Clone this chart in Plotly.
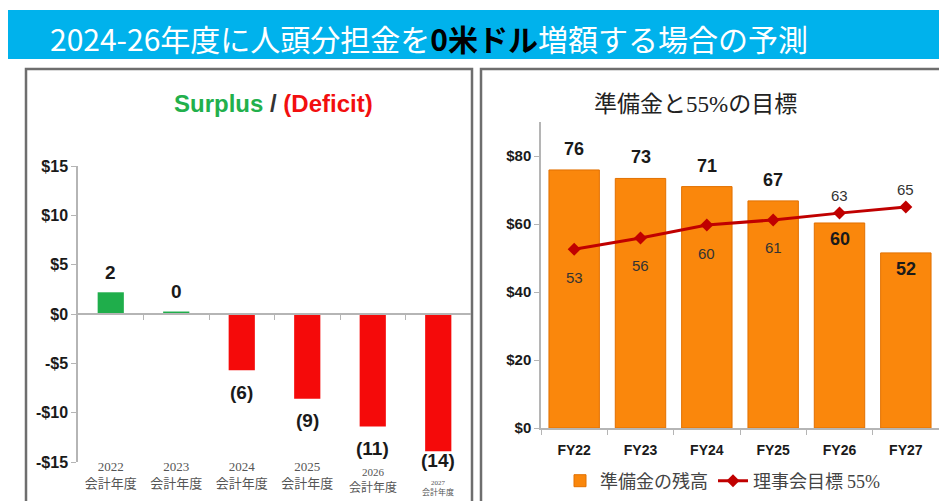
import plotly.graph_objects as go

# ---------------- data ----------------
# Left chart: Surplus / (Deficit)
fiscal_years = ["2022", "2023", "2024", "2025", "2026", "2027"]
surplus_values = [2.2, 0.25, -5.7, -8.6, -11.4, -13.9]
surplus_labels = ["2", "0", "(6)", "(9)", "(11)", "(14)"]
left_yticks = [15, 10, 5, 0, -5, -10, -15]
left_yticklabels = ["$15", "$10", "$5", "$0", "-$5", "-$10", "-$15"]

# Right chart: reserves vs 55% target
fy_labels = ["FY22", "FY23", "FY24", "FY25", "FY26", "FY27"]
reserve_values = [75.9, 73.4, 71.0, 66.8, 60.3, 51.5]
reserve_labels = ["76", "73", "71", "67", "60", "52"]
target_values = [52.6, 55.9, 59.7, 61.2, 63.2, 65.0]
target_labels = ["53", "56", "60", "61", "63", "65"]
right_yticks = [0, 20, 40, 60, 80]
right_yticklabels = ["$0", "$20", "$40", "$60", "$80"]

# ---------------- figure ----------------
W, H = 939, 501
SANS = "Liberation Sans, Arial, sans-serif"
CJK = "Noto Sans CJK JP, sans-serif"
SERIF = "Liberation Serif, serif"


def px_x(p):
    return p / W


def px_y(p):
    return 1 - p / H


fig = go.Figure()

left_idx = list(range(len(fiscal_years)))
bar_colors = ["#1FAE4B" if v >= 0 else "#F50A0A" for v in surplus_values]
fig.add_trace(go.Bar(
    x=left_idx, y=surplus_values, width=0.4,
    marker=dict(color=bar_colors, line=dict(width=0)),
    xaxis="x", yaxis="y", showlegend=False, hoverinfo="skip",
))

fig.add_trace(go.Bar(
    x=fy_labels, y=reserve_values, width=0.76, name="準備金の残高",
    marker=dict(color="#FA870C", line=dict(color="#E27000", width=1)),
    xaxis="x2", yaxis="y2", hoverinfo="skip",
))
fig.add_trace(go.Scatter(
    x=fy_labels, y=target_values,
    name="理事会目標 <span style='font-family:Liberation Serif, serif'>55%</span>",
    mode="lines+markers",
    line=dict(color="#C00000", width=3),
    marker=dict(symbol="diamond", size=10, color="#C00000"),
    xaxis="x2", yaxis="y2", hoverinfo="skip",
))

annotations = []

# left x tick labels: the first four as axis tick labels, the last two (drawn
# smaller and lower in the source) as annotations
n_regular = 4
left_ticktext = [f"{yr}<br>会計年度" if i < n_regular else "" for i, yr in enumerate(fiscal_years)]
small_tick_style = [(11, 12, 480.5), (7, 8, 487.5)]
for (i, yr), (s_year, s_text, y_px) in zip(list(enumerate(fiscal_years))[n_regular:], small_tick_style):
    annotations.append(dict(
        x=i, y=px_y(y_px), xref="x", yref="paper", xanchor="center", yanchor="middle",
        text=f"<span style='font-size:{s_year}px;font-family:Liberation Serif, serif'>{yr}</span><br>会計年度",
        showarrow=False, font=dict(family=CJK, size=s_text, color="#555555"),
    ))

# header
annotations.append(dict(
    text="2024-26年度に人頭分担金を<b><span style='color:#000000'>0米ドル</span></b>増額する場合の予測",
    x=px_x(48), y=px_y(38), xref="paper", yref="paper", xanchor="left", yanchor="middle",
    showarrow=False, font=dict(family=CJK, size=30, color="#FFFFFF"),
))
# left title
annotations.append(dict(
    text="<span style='color:#22B04C'>Surplus</span> <span style='color:#333333'>/</span> <span style='color:#F20F0F'>(Deficit)</span>",
    x=px_x(273), y=px_y(103), xref="paper", yref="paper", xanchor="center", yanchor="middle",
    showarrow=False, font=dict(family=SANS, size=24, color="#333333", weight="bold"),
))
# right title
annotations.append(dict(
    text="準備金と<span style='font-family:Liberation Serif, serif'>55%</span>の目標",
    x=px_x(695), y=px_y(102), xref="paper", yref="paper", xanchor="center", yanchor="middle",
    showarrow=False, font=dict(family=CJK, size=23, color="#222222"),
))

# left bar labels
for i, v, lab in zip(left_idx, surplus_values, surplus_labels):
    if v >= 0:
        annotations.append(dict(x=i, y=v, xref="x", yref="y", text=lab, showarrow=False,
                                yshift=20, font=dict(family=SANS, size=19, color="#1A1A1A", weight="bold")))
    else:
        annotations.append(dict(x=i, y=max(v, -12.6), xref="x", yref="y", text=lab, showarrow=False,
                                yshift=-22, font=dict(family=SANS, size=19, color="#1A1A1A", weight="bold")))

# right labels
for j, (b, blab, t, tlab) in enumerate(zip(reserve_values, reserve_labels, target_values, target_labels)):
    if b > t:
        annotations.append(dict(x=j, y=b, xref="x2", yref="y2", text=blab, showarrow=False,
                                yshift=21, font=dict(family=SANS, size=18, color="#1A1A1A", weight="bold")))
        annotations.append(dict(x=j, y=t, xref="x2", yref="y2", text=tlab, showarrow=False,
                                yshift=-28, font=dict(family=SANS, size=15, color="#333333")))
    else:
        annotations.append(dict(x=j, y=b, xref="x2", yref="y2", text=blab, showarrow=False,
                                yshift=-16, font=dict(family=SANS, size=18, color="#1A1A1A", weight="bold")))
        annotations.append(dict(x=j, y=t, xref="x2", yref="y2", text=tlab, showarrow=False,
                                yshift=18, font=dict(family=SANS, size=15, color="#333333")))

shapes = [
    # header band
    dict(type="rect", xref="paper", yref="paper", x0=px_x(8), x1=1.0, y0=px_y(59), y1=px_y(10),
         fillcolor="#00B2EC", line=dict(width=0), layer="below"),
    # left panel frame
    dict(type="rect", xref="paper", yref="paper", x0=px_x(26), x1=px_x(472), y0=-0.05, y1=px_y(69),
         fillcolor="rgba(0,0,0,0)", line=dict(color="#6E6E6E", width=2.5), layer="below"),
    # right panel frame
    dict(type="rect", xref="paper", yref="paper", x0=px_x(481), x1=1.05, y0=-0.05, y1=px_y(69),
         fillcolor="rgba(0,0,0,0)", line=dict(color="#6E6E6E", width=2.5), layer="below"),
]

axis_gray = "#B5B5B5"
fig.update_layout(
    width=W, height=H, autosize=False,
    margin=dict(l=0, r=0, t=0, b=0, autoexpand=False),
    paper_bgcolor="#FFFFFF", plot_bgcolor="rgba(0,0,0,0)",
    barmode="overlay",
    font=dict(family=SANS, color="#333333"),
    xaxis=dict(
        domain=[px_x(78), px_x(471)], type="linear", range=[-0.5, len(fiscal_years) - 0.5],
        anchor="free", position=px_y(314), automargin=False,
        showline=True, linecolor=axis_gray, linewidth=1.5,
        ticks="", tickvals=left_idx, ticktext=left_ticktext,
        ticklabelstandoff=141,
        tickfont=dict(family=SERIF + ", " + CJK, size=13, color="#555555"),
        showgrid=False, zeroline=False, fixedrange=True,
        minor=dict(tickvals=[i + 0.5 for i in left_idx[:-1]], ticks="outside", ticklen=5,
                   tickcolor=axis_gray, showgrid=False),
    ),
    yaxis=dict(
        domain=[px_y(462), px_y(166)], range=[-15, 15], anchor="x", automargin=False,
        tickvals=left_yticks, ticktext=left_yticklabels,
        showline=True, linecolor=axis_gray, linewidth=1.5,
        ticks="outside", ticklen=5, tickcolor=axis_gray,
        tickfont=dict(family=SANS, size=16, color="#1A1A1A", weight="bold"),
        showgrid=False, zeroline=False, fixedrange=True,
    ),
    xaxis2=dict(
        domain=[px_x(541), 1.0], type="category", anchor="y2", automargin=False,
        range=[-0.5, len(fy_labels) - 0.5],
        showline=True, linecolor=axis_gray, linewidth=1.5,
        ticks="outside", tickson="boundaries", ticklen=5, tickcolor=axis_gray,
        ticklabelstandoff=8,
        tickfont=dict(family=SANS, size=14, color="#1A1A1A", weight="bold"),
        showgrid=False, zeroline=False, fixedrange=True,
    ),
    yaxis2=dict(
        domain=[px_y(428), px_y(122)], range=[0, 90], anchor="x2", automargin=False,
        tickvals=right_yticks, ticktext=right_yticklabels,
        showline=True, linecolor=axis_gray, linewidth=1.5,
        ticks="outside", ticklen=5, tickcolor=axis_gray,
        tickfont=dict(family=SANS, size=15, color="#1A1A1A", weight="bold"),
        showgrid=False, zeroline=False, fixedrange=True,
    ),
    legend=dict(
        orientation="h", x=px_x(560), y=px_y(481), xanchor="left", yanchor="middle",
        font=dict(family=CJK, size=18, color="#444444"),
        bgcolor="rgba(0,0,0,0)", itemwidth=30, tracegroupgap=0,
    ),
    annotations=annotations,
    shapes=shapes,
)

fig.write_html("out.html", post_script="document.body.style.margin='0';", config={"displayModeBar": False})
